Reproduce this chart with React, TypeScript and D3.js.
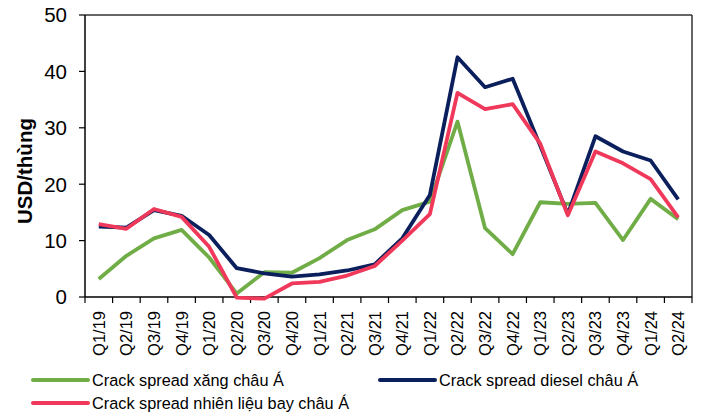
import React from "react";
import * as d3 from "d3";

const categories = ["Q1/19","Q2/19","Q3/19","Q4/19","Q1/20","Q2/20","Q3/20","Q4/20","Q1/21","Q2/21","Q3/21","Q4/21","Q1/22","Q2/22","Q3/22","Q4/22","Q1/23","Q2/23","Q3/23","Q4/23","Q1/24","Q2/24"];
const gasoline = [3.2,7.3,10.4,11.9,7.0,0.6,4.4,4.3,6.9,10.1,12.0,15.4,16.9,31.1,12.2,7.6,16.8,16.5,16.7,10.1,17.4,13.8];
const diesel = [12.5,12.3,15.4,14.4,11.0,5.1,4.2,3.6,4.0,4.7,5.8,10.4,18.1,42.5,37.2,38.7,26.8,14.7,28.5,25.8,24.2,17.3];
const jetFuel = [12.9,12.1,15.6,14.2,8.9,-0.1,-0.3,2.4,2.7,3.8,5.5,10.0,14.7,36.2,33.3,34.2,27.2,14.5,25.8,23.7,20.9,14.1];
const yTicks = [0,10,20,30,40,50];
const seriesNames = ["Crack spread xăng châu Á","Crack spread diesel châu Á","Crack spread nhiên liệu bay châu Á"];
const colors = ["#70ad47","#0a1f5c","#f0385a"];

export default function App() {
  const W = 702, H = 417;
  const left = 85, right = 692, top = 15, bottom = 297;
  const x = d3.scaleBand<string>().domain(categories).range([left, right]);
  const y = d3.scaleLinear().domain([0, 50]).range([bottom, top]);
  const line = d3.line<number>()
    .x((_, i) => (x(categories[i]) as number) + x.bandwidth() / 2)
    .y((d) => y(d));
  const series = [gasoline, diesel, jetFuel];
  const font = "Arial, 'Liberation Sans', sans-serif";
  const boundaries = categories.map((c) => x(c) as number).concat([right]);

  const legendItems = [
    { i: 0, lx: 33, ly: 380 },
    { i: 1, lx: 380, ly: 380 },
    { i: 2, lx: 33, ly: 403 },
  ];

  return (
    <svg width={W} height={H} style={{ position: "absolute", left: 0, top: 0, background: "#fff" }} fontFamily={font}>
      <rect x={0} y={0} width={W} height={H} fill="#fff" />
      {/* frame */}
      <line x1={left} x2={right} y1={top} y2={top} stroke="#333" strokeWidth={1.5} />
      <line x1={right} x2={right} y1={top} y2={bottom} stroke="#333" strokeWidth={1.5} />
      {/* y axis */}
      <line x1={left} x2={left} y1={top} y2={bottom} stroke="#000" strokeWidth={1.5} />
      {yTicks.map((t) => (
        <g key={t}>
          <line x1={left - 6} x2={left} y1={y(t)} y2={y(t)} stroke="#000" strokeWidth={1.2} />
          <text x={67} y={y(t)} dy="0.36em" textAnchor="end" fontSize={20.5} fill="#000">{t}</text>
        </g>
      ))}
      <text transform={`translate(32,${(top + bottom) / 2 + 15}) rotate(-90)`} textAnchor="middle" fontSize={20.5} fontWeight="bold" fill="#000">USD/thùng</text>
      {/* x axis */}
      <line x1={left} x2={right} y1={bottom} y2={bottom} stroke="#000" strokeWidth={1.5} />
      {boundaries.map((b, i) => (
        <line key={i} x1={b} x2={b} y1={bottom} y2={bottom + 6} stroke="#000" strokeWidth={1.2} />
      ))}
      {categories.map((c) => (
        <text key={c} transform={`translate(${(x(c) as number) + x.bandwidth() / 2 + 6},${bottom + 14}) rotate(-90)`} textAnchor="end" fontSize={16.5} fill="#000">{c}</text>
      ))}
      {/* lines */}
      {series.map((s, i) => (
        <path key={i} d={line(s) || ""} fill="none" stroke={colors[i]} strokeWidth={3.8} strokeLinejoin="round" />
      ))}
      {/* legend */}
      {legendItems.map(({ i, lx, ly }) => (
        <g key={i}>
          <line x1={lx} x2={lx + 55} y1={ly} y2={ly} stroke={colors[i]} strokeWidth={4} strokeLinecap="round" />
          <text x={lx + 59} y={ly} dy="0.36em" fontSize={16.3} fill="#000">{seriesNames[i]}</text>
        </g>
      ))}
    </svg>
  );
}
